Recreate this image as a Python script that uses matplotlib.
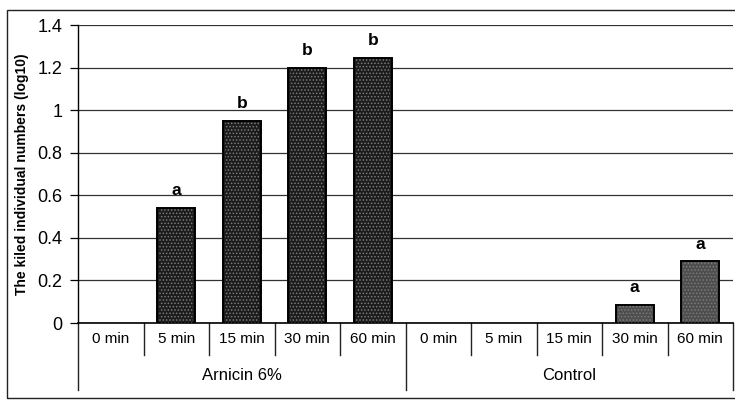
import matplotlib
matplotlib.use("Agg")
import matplotlib.pyplot as plt
import matplotlib.transforms as mtransforms
from matplotlib.patches import Rectangle

plt.rcParams['font.family'] = ['Liberation Sans', 'DejaVu Sans']
plt.rcParams['hatch.linewidth'] = 0.7

# data
times = ['0 min', '5 min', '15 min', '30 min', '60 min']
groups = ['Arnicin 6%', 'Control']
arnicin = [0.0, 0.54, 0.95, 1.20, 1.245]
control = [0.0, 0.0, 0.0, 0.085, 0.29]
arnicin_letters = ['', 'a', 'b', 'b', 'b']
control_letters = ['', '', '', 'a', 'a']
yticks = [0, 0.2, 0.4, 0.6, 0.8, 1, 1.2, 1.4]
ytick_labels = ['0', '0.2', '0.4', '0.6', '0.8', '1', '1.2', '1.4']

fig = plt.figure(figsize=(7.35, 4.03), dpi=100)
fig.patch.set_facecolor('white')

# outer frame round the whole chart
fig.patches.append(Rectangle((7 / 735, 1 - 398 / 403), 740 / 735, 388 / 403,
                             transform=fig.transFigure, fill=False,
                             edgecolor='#222222', linewidth=1.0))

ax = fig.add_axes([78 / 735, 1 - 323 / 403, 655 / 735, 298 / 403])

n = len(times)
xs = list(range(2 * n))
values = arnicin + control
letters = arnicin_letters + control_letters
colors = ['#1c1c1c'] * n + ['#4e4e4e'] * n

# empty slots have no bar at all
shown = [i for i, v in enumerate(values) if v > 0]
bx = [xs[i] for i in shown]
bv = [values[i] for i in shown]
bc = [colors[i] for i in shown]

width = 0.58
ax.bar(bx, bv, width=width, color=bc, edgecolor='black', linewidth=1.4, zorder=3)
# stipple texture
ax.bar(bx, bv, width=width * 0.9, facecolor='none', edgecolor='#7a7a7a',
       linewidth=0, hatch='.....', zorder=4)

for x, v, lab in zip(xs, values, letters):
    if lab:
        ax.text(x, v + 0.045, lab, ha='center', va='bottom', fontsize=12.5,
                fontweight='bold', zorder=5)

ax.set_xlim(-0.5, 2 * n - 0.5)
ax.set_ylim(0, 1.4)
ax.set_yticks(yticks)
ax.set_yticklabels(ytick_labels, fontsize=13)
ax.yaxis.grid(True, color='#333333', linewidth=0.9, zorder=0)
ax.set_axisbelow(True)
ax.tick_params(axis='y', length=6, width=0.9, pad=5)
ax.set_xticks([])

for side in ['top', 'right']:
    ax.spines[side].set_visible(False)
ax.spines['left'].set_linewidth(1.0)
ax.spines['bottom'].set_linewidth(1.2)

ax.set_ylabel('The kiled individual numbers (log10)', fontsize=10,
              fontweight='bold', labelpad=6)

# category table under the axis
trans = mtransforms.blended_transform_factory(ax.transData, ax.transAxes)
cat_y = -32 / 298
grp_y = -67 / 298
for i in range(2 * n + 1):
    xb = i - 0.5
    if i % n == 0:
        ax.plot([xb, xb], [0, grp_y], color='#222222', lw=1.0,
                transform=trans, clip_on=False)
    else:
        ax.plot([xb, xb], [0, cat_y], color='#222222', lw=1.0,
                transform=trans, clip_on=False)

for x, t in zip(xs, times + times):
    ax.text(x, cat_y / 2, t, ha='center', va='center', fontsize=11,
            transform=trans)

for g, gi in enumerate(groups):
    center = g * n + (n - 1) / 2
    ax.text(center, -53 / 298, gi, ha='center', va='center', fontsize=12,
            transform=trans)

fig.savefig('out.png', dpi=100)
